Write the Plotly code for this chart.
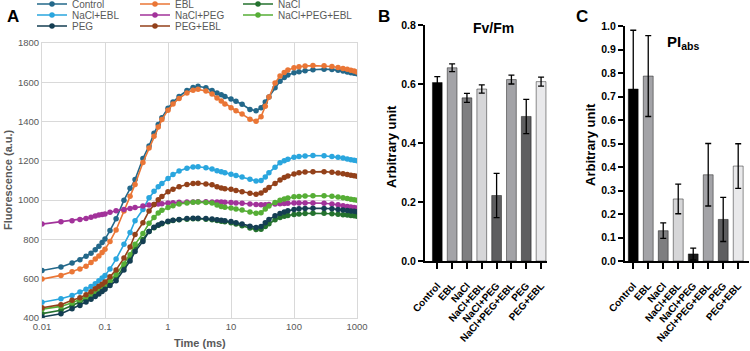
import plotly.graph_objects as go

# ---------------- Panel A data (OJIP transients) ----------------
time_ms = [0.01, 0.02, 0.03, 0.04, 0.05, 0.06, 0.07, 0.08, 0.09, 0.1,
           0.12, 0.15, 0.2, 0.25, 0.3, 0.4, 0.5, 0.6, 0.7, 0.8, 1,
           1.2, 1.5, 2, 2.5, 3, 4, 5, 6, 7, 8, 10,
           12, 15, 20, 25, 30, 35, 40, 50, 60, 70, 80, 100,
           120, 150, 200, 300, 400, 500, 600, 700, 800, 900, 1000]

control = [642, 660, 680, 697, 714, 730, 748, 765, 784, 802,
           845, 905, 1000, 1060, 1105, 1212, 1276, 1340, 1385, 1420, 1468,
           1500, 1528, 1558, 1574, 1580, 1572, 1558, 1546, 1537, 1528, 1515,
           1503, 1488, 1462, 1455, 1470, 1500, 1525, 1572, 1605, 1625, 1637, 1648,
           1654, 1659, 1664, 1667, 1665, 1661, 1657, 1653, 1649, 1646, 1643]

ebl = [598, 617, 635, 650, 664, 682, 700, 716, 733, 750,
       790, 848, 945, 1020, 1080, 1192, 1265, 1325, 1372, 1410, 1458,
       1490, 1518, 1546, 1560, 1564, 1556, 1540, 1520, 1505, 1490, 1470,
       1455, 1438, 1412, 1402, 1425, 1478, 1525, 1597, 1632, 1650, 1662, 1674,
       1679, 1683, 1685, 1684, 1680, 1675, 1670, 1666, 1661, 1657, 1653]

nacl = [422, 439, 464, 481, 495, 510, 524, 535, 547, 558,
        578, 605, 660, 705, 752, 800, 840, 860, 872, 880, 890,
        896, 900, 903, 905, 905, 903, 900, 896, 893, 890, 885,
        878, 870, 858, 850, 852, 866, 880, 900, 912, 918, 922, 927,
        930, 932, 933, 933, 931, 928, 926, 924, 922, 920, 918]

nacl_ebl = [480, 498, 515, 532, 547, 561, 575, 590, 604, 617,
            650, 700, 775, 835, 895, 952, 1012, 1045, 1068, 1085, 1110,
            1130, 1148, 1163, 1169, 1170, 1165, 1158, 1150, 1145, 1140, 1132,
            1126, 1118, 1106, 1098, 1100, 1118, 1140, 1168, 1190, 1200, 1208, 1218,
            1222, 1225, 1227, 1226, 1222, 1218, 1214, 1210, 1206, 1203, 1200]

nacl_peg = [878, 890, 895, 902, 907, 913, 919, 924, 927, 929,
            938, 946, 953, 958, 962, 970, 975, 978, 980, 982, 985,
            987, 989, 990, 991, 992, 992, 991, 990, 990, 989, 988,
            986, 984, 980, 978, 977, 977, 978, 980, 982, 983, 984, 985,
            986, 986, 986, 984, 980, 976, 972, 968, 965, 962, 960]

nacl_peg_ebl = [445, 459, 478, 493, 507, 520, 536, 548, 558, 569,
                590, 622, 675, 722, 775, 830, 882, 912, 935, 948, 962,
                972, 980, 986, 989, 990, 988, 985, 975, 968, 964, 960,
                955, 950, 940, 933, 936, 955, 970, 988, 1000, 1006, 1011, 1017,
                1019, 1021, 1022, 1022, 1020, 1016, 1012, 1008, 1005, 1002, 1000]

peg = [405, 422, 447, 464, 481, 495, 510, 522, 535, 546,
       565, 590, 645, 690, 738, 790, 840, 862, 874, 882, 892,
       898, 902, 906, 908, 908, 906, 904, 900, 898, 895, 891,
       885, 878, 867, 861, 866, 885, 902, 920, 932, 940, 946, 953,
       956, 958, 959, 958, 956, 953, 950, 947, 945, 943, 941]

peg_ebl = [452, 468, 490, 503, 519, 534, 549, 562, 572, 583,
           610, 645, 705, 762, 825, 885, 945, 978, 1002, 1018, 1043,
           1055, 1068, 1080, 1085, 1086, 1082, 1078, 1068, 1062, 1058, 1055,
           1049, 1043, 1035, 1030, 1036, 1050, 1065, 1085, 1103, 1115, 1123, 1133,
           1139, 1143, 1145, 1145, 1142, 1138, 1134, 1130, 1127, 1124, 1122]

series_names = ["Control", "EBL", "NaCl", "NaCl+EBL", "NaCl+PEG",
                "NaCl+PEG+EBL", "PEG", "PEG+EBL"]
series_values = [control, ebl, nacl, nacl_ebl, nacl_peg, nacl_peg_ebl, peg, peg_ebl]
series_colors = ["#23688A", "#EA7636", "#24722E", "#2AA6DE", "#A2329A",
                 "#56AE36", "#143E52", "#93411A"]

# ---------------- Panel B / C data ----------------
treatments = ["Control", "EBL", "NaCl", "NaCl+EBL", "NaCl+PEG",
              "NaCl+PEG+EBL", "PEG", "PEG+EBL"]
fvfm = [0.605, 0.655, 0.553, 0.583, 0.222, 0.615, 0.490, 0.608]
fvfm_err = [0.020, 0.013, 0.015, 0.014, 0.075, 0.015, 0.058, 0.015]
piabs = [0.732, 0.787, 0.129, 0.264, 0.030, 0.367, 0.177, 0.404]
piabs_err = [0.250, 0.172, 0.033, 0.063, 0.025, 0.133, 0.094, 0.095]
bar_colors = ["#000000", "#A3A3A7", "#7E7E80", "#D6D6D8", "#5E5E60",
              "#A3A3A7", "#5E5E60", "#E9E9EB"]
bar_colors_c = ["#000000", "#A3A3A7", "#7E7E80", "#D6D6D8", "#1A1A1A",
                "#A3A3A7", "#5E5E60", "#E9E9EB"]

W, H = 750, 351
FONT = "Liberation Sans, Arial, sans-serif"
GRAY = "#595959"


def px_x(p):
    return p / W


def px_y(p):
    return 1 - p / H


# legend grid: 3 columns x 3 rows (position in px of legend box left / row centre)
legend_cols = [32, 135, 238]
legend_rows = [4, 15, 26]

fig = go.Figure()

legend_layouts = {}
for i, (name, vals, col) in enumerate(zip(series_names, series_values, series_colors)):
    lid = "legend" if i == 0 else f"legend{i + 1}"
    fig.add_trace(go.Scatter(
        x=time_ms, y=vals, name=name, mode="lines+markers",
        line=dict(color=col, width=1.6),
        marker=dict(color=col, size=5.5),
        xaxis="x", yaxis="y", legend=lid,
    ))
    legend_layouts[lid] = dict(
        x=px_x(legend_cols[i % 3]), y=px_y(legend_rows[i // 3]),
        xanchor="left", yanchor="middle", orientation="v",
        bgcolor="rgba(0,0,0,0)", borderwidth=0, itemwidth=30,
        font=dict(family=FONT, size=10, color=GRAY),
    )

fig.add_trace(go.Bar(
    x=treatments, y=fvfm, xaxis="x2", yaxis="y2", showlegend=False,
    width=0.66,
    marker=dict(color=bar_colors, line=dict(color="rgba(0,0,0,0.55)", width=0.8)),
    error_y=dict(type="data", array=fvfm_err, color="black", thickness=1.3, width=3),
))
fig.add_trace(go.Bar(
    x=treatments, y=piabs, xaxis="x3", yaxis="y3", showlegend=False,
    width=0.66,
    marker=dict(color=bar_colors_c, line=dict(color="rgba(0,0,0,0.55)", width=0.8)),
    error_y=dict(type="data", array=piabs_err, color="black", thickness=1.3, width=3),
))

grid = "#D9D9D9"
bar_tick_font = dict(family=FONT, size=10, color="black", weight="bold")

fig.update_layout(
    width=W, height=H,
    margin=dict(l=0, r=0, t=0, b=0, autoexpand=False),
    paper_bgcolor="white", plot_bgcolor="white",
    font=dict(family=FONT),
    **legend_layouts,
    xaxis=dict(
        domain=[px_x(42), px_x(357)], anchor="y", type="log", range=[-2, 3],
        tickvals=[0.01, 0.1, 1, 10, 100, 1000],
        ticktext=["0.01", "0.1", "1", "10", "100", "1000"],
        showgrid=True, gridcolor=grid, gridwidth=1, zeroline=False,
        showline=True, linecolor=grid, linewidth=1, mirror=True,
        ticks="", tickfont=dict(family=FONT, size=9.5, color=GRAY),
    ),
    yaxis=dict(
        domain=[px_y(318), px_y(43)], anchor="x", range=[400, 1800], dtick=200,
        showgrid=True, gridcolor=grid, gridwidth=1, zeroline=False,
        showline=True, linecolor=grid, linewidth=1, mirror=True,
        ticks="", tickfont=dict(family=FONT, size=9.5, color=GRAY),
    ),
    xaxis2=dict(
        domain=[px_x(425), px_x(547)], anchor="y2", type="category",
        categoryorder="array", categoryarray=treatments, range=[-0.83, 7.4],
        showline=True, linecolor="black", linewidth=2,
        ticks="outside", ticklen=6, tickwidth=2, tickcolor="black",
        tickangle=-48, ticklabelstandoff=7, tickfont=bar_tick_font, showgrid=False,
    ),
    yaxis2=dict(
        domain=[px_y(261), px_y(25)], anchor="x2", range=[0, 0.8], dtick=0.2,
        tickformat=".1f", showline=True, linecolor="black", linewidth=2,
        ticks="outside", ticklen=5, tickwidth=2, tickcolor="black",
        showgrid=False, zeroline=False,
        tickfont=dict(family=FONT, size=10.5, color="black", weight="bold"),
    ),
    xaxis3=dict(
        domain=[px_x(625), px_x(749)], anchor="y3", type="category",
        categoryorder="array", categoryarray=treatments, range=[-0.55, 7.72],
        showline=True, linecolor="black", linewidth=2,
        ticks="outside", ticklen=6, tickwidth=2, tickcolor="black",
        tickangle=-48, ticklabelstandoff=7, tickfont=bar_tick_font, showgrid=False,
    ),
    yaxis3=dict(
        domain=[px_y(261), px_y(26)], anchor="x3", range=[0, 1.0], dtick=0.1,
        tickformat=".1f", showline=True, linecolor="black", linewidth=2,
        ticks="outside", ticklen=5, tickwidth=2, tickcolor="black",
        showgrid=False, zeroline=False,
        tickfont=dict(family=FONT, size=10.5, color="black", weight="bold"),
    ),
)

ann = []


def add_text(text, x, y, size, color="black", bold=True, angle=0):
    ann.append(dict(
        text=text, x=px_x(x), y=px_y(y), xref="paper", yref="paper",
        showarrow=False, xanchor="center", yanchor="middle", textangle=angle,
        font=dict(family=FONT, size=size, color=color,
                  weight="bold" if bold else "normal"),
    ))


add_text("A", 13, 16, 17)
add_text("B", 384, 17, 17)
add_text("C", 582, 16, 17)
add_text("Fluorescence (a.u.)", 8, 180, 11, color=GRAY, angle=-90)
add_text("Time (ms)", 200, 343, 11, color=GRAY)
add_text("Arbitrary unit", 391, 147, 13, angle=-90)
add_text("Arbitrary unit", 591, 145, 13, angle=-90)
add_text("Fv/Fm", 494, 28, 14)
add_text("PI<sub>abs</sub>", 683, 43, 15)

fig.update_layout(annotations=ann)

fig.write_html("out.html")
